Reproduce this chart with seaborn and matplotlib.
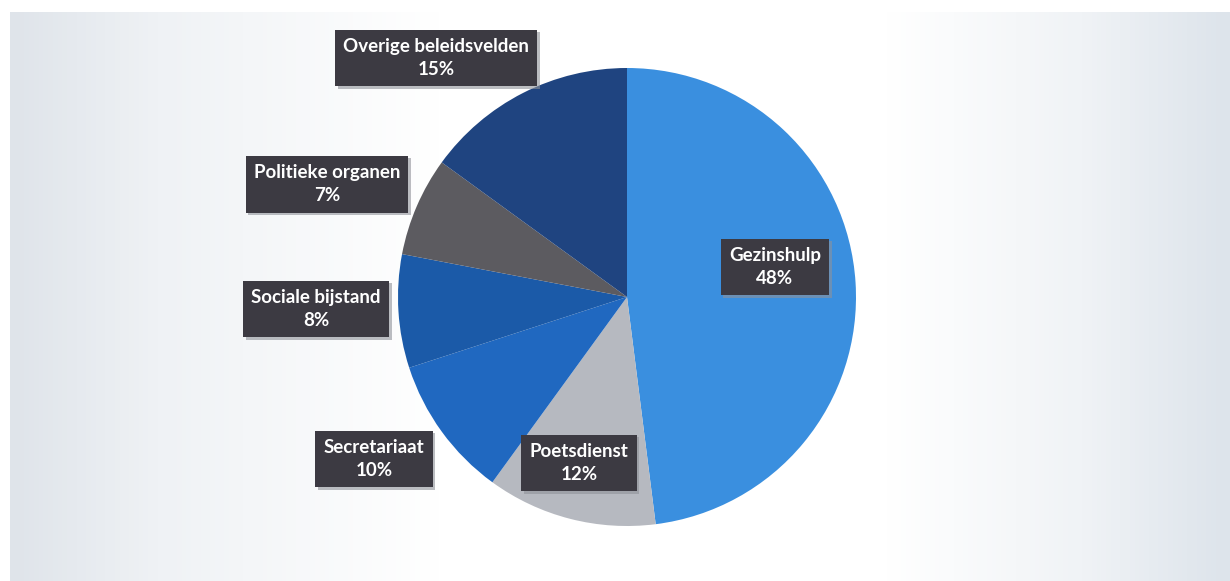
import numpy as np
import seaborn as sns
import matplotlib.pyplot as plt
import matplotlib.patheffects as pe
from matplotlib.colors import LinearSegmentedColormap

# Data (clockwise from 12 o'clock)
categories = ['Gezinshulp', 'Poetsdienst', 'Secretariaat',
              'Sociale bijstand', 'Politieke organen', 'Overige beleidsvelden']
shares = [48, 12, 10, 8, 7, 15]
slice_colors = ['#3a8fdf', '#b6b9c0', '#2068c0', '#1b5aa8', '#5c5b60', '#1f4480']

# where each label box sits, relative to the pie centre (pie radius = 1)
label_pos = [(0.646, 0.131), (-0.210, -0.725), (-1.105, -0.707),
             (-1.358, -0.052), (-1.310, 0.493), (-0.834, 1.044)]

sns.set_theme(style='white')
plt.rcParams['font.family'] = ['Lato', 'DejaVu Sans']

W, H = 1230, 581
fig = plt.figure(figsize=(W / 100, H / 100), dpi=100)
fig.patch.set_facecolor('white')

# scanned page background: soft blue-grey at the edges, white in the middle
bg = fig.add_axes([10 / W, 0, (W - 10) / W, (H - 12) / H])
grad_cmap = LinearSegmentedColormap.from_list(
    'page', [(0.0, '#dfe4ea'), (0.12, '#eff2f5'), (0.35, '#ffffff'),
             (0.72, '#ffffff'), (0.88, '#f0f3f6'), (1.0, '#dde4eb')])
bg.imshow(np.linspace(0, 1, 256)[None, :], aspect='auto', cmap=grad_cmap,
          extent=[0, 1, 0, 1])
bg.set_axis_off()

# pie axes: centre (627, 297) px, radius 229 px
cx, cy, r = 627, 297, 229
ax = fig.add_axes([(cx - r) / W, (H - cy - r) / H, 2 * r / W, 2 * r / H])
ax.pie(shares, colors=slice_colors, startangle=90, counterclock=False,
       radius=1, wedgeprops=dict(linewidth=0))
ax.set_xlim(-1, 1)
ax.set_ylim(-1, 1)
ax.set_aspect('auto')

for name, val, (lx, ly) in zip(categories, shares, label_pos):
    t = ax.text(lx, ly, f'{name}\n{val}%', ha='center', va='center',
                fontsize=13.5, fontweight='bold', color='white', linespacing=1.45,
                bbox=dict(boxstyle='square,pad=0.44', fc='#3c3a42', ec='none'),
                clip_on=False)
    t.get_bbox_patch().set_path_effects(
        [pe.SimplePatchShadow(offset=(2, -2), shadow_rgbFace='#8f9299', alpha=0.6),
         pe.Normal()])

fig.savefig('out.png', dpi=100)
